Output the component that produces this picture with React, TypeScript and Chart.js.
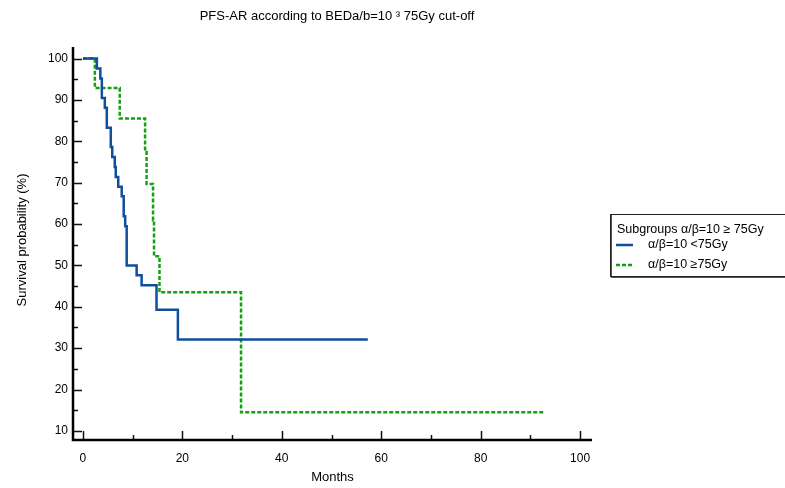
import React, { useEffect, useRef } from "react";
import { Chart, registerables } from "chart.js";

Chart.register(...registerables);

const titleText = "PFS-AR according to BEDa/b=10 ³ 75Gy cut-off";
const legendTitle = "Subgroups α/β=10 ≥ 75Gy";
const seriesLabels = ["α/β=10 <75Gy", "α/β=10 ≥75Gy"];
const xAxisTitle = "Months";
const yAxisTitle = "Survival probability (%)";

// Kaplan-Meier steps (time in months, survival %)
const lowTimes = [0, 2.8, 3.5, 3.8, 4.4, 4.8, 5.6, 5.9, 6.4, 6.6, 7.1, 7.8, 8.2, 8.5, 8.8, 10.8, 11.8, 14.8, 19.1, 57.3];
const lowSurv = [100, 97.6, 95.2, 90.5, 88.1, 83.3, 78.6, 76.2, 73.8, 71.4, 69.0, 66.7, 61.9, 59.5, 50.0, 47.6, 45.2, 39.3, 32.1, 32.1];

const highTimes = [0, 2.4, 7.4, 12.5, 12.8, 14.1, 14.3, 15.4, 31.8, 93.0];
const highSurv = [100, 92.9, 85.5, 77.4, 69.7, 60.9, 52.2, 43.5, 14.5, 14.5];

const xMajorTicks = [0, 20, 40, 60, 80, 100];
const xMinorTicks = [10, 30, 50, 70, 90];
const yMajorTicks = [10, 20, 30, 40, 50, 60, 70, 80, 90, 100];
const yMinorTicks = [15, 25, 35, 45, 55, 65, 75, 85, 95];

const FONT = "'Liberation Sans', Arial, sans-serif";

const decorPlugin = {
  id: "decor",
  afterDatasetsDraw(chart: any) {
    const { ctx, chartArea: ca, scales } = chart;
    const xs = scales.x;
    const ys = scales.y;
    ctx.save();
    ctx.strokeStyle = "#111";
    ctx.lineWidth = 1.5;
    ctx.beginPath();
    for (const v of yMajorTicks) {
      const y = Math.round(ys.getPixelForValue(v)) + 0.5;
      ctx.moveTo(ca.left, y);
      ctx.lineTo(ca.left + 9, y);
    }
    for (const v of yMinorTicks) {
      const y = Math.round(ys.getPixelForValue(v)) + 0.5;
      ctx.moveTo(ca.left, y);
      ctx.lineTo(ca.left + 5, y);
    }
    for (const v of xMajorTicks) {
      const x = Math.round(xs.getPixelForValue(v)) + 0.5;
      ctx.moveTo(x, ca.bottom);
      ctx.lineTo(x, ca.bottom - 9);
    }
    for (const v of xMinorTicks) {
      const x = Math.round(xs.getPixelForValue(v)) + 0.5;
      ctx.moveTo(x, ca.bottom);
      ctx.lineTo(x, ca.bottom - 5);
    }
    ctx.stroke();
    ctx.strokeStyle = "#000";
    ctx.lineWidth = 2.5;
    ctx.beginPath();
    ctx.moveTo(ca.left, ca.top);
    ctx.lineTo(ca.left, ca.bottom);
    ctx.lineTo(ca.right, ca.bottom);
    ctx.stroke();
    ctx.restore();
  },
  afterDraw(chart: any) {
    const { ctx, chartArea: ca } = chart;
    ctx.save();
    ctx.fillStyle = "#000";
    ctx.textBaseline = "middle";
    // title
    ctx.font = `13px ${FONT}`;
    ctx.textAlign = "center";
    ctx.fillText(titleText, 337, 16);
    // x axis title
    ctx.fillText(xAxisTitle, (ca.left + ca.right) / 2, 477);
    // y axis title
    ctx.save();
    ctx.translate(22, 240);
    ctx.rotate(-Math.PI / 2);
    ctx.fillText(yAxisTitle, 0, 0);
    ctx.restore();

    // legend box
    ctx.strokeStyle = "#222";
    ctx.lineWidth = 1;
    ctx.strokeRect(610.5, 214.5, 200, 62);
    ctx.lineWidth = 1;
    ctx.strokeStyle = "#555";
    ctx.beginPath();
    ctx.moveTo(611.5, 215);
    ctx.lineTo(611.5, 276);
    ctx.moveTo(611, 277.5);
    ctx.lineTo(790, 277.5);
    ctx.stroke();

    ctx.font = `12.5px ${FONT}`;
    ctx.textAlign = "left";
    ctx.fillStyle = "#000";
    ctx.fillText(legendTitle, 617, 230);
    const rows = [245, 265];
    chart.data.datasets.forEach((ds: any, i: number) => {
      const y = rows[i];
      ctx.save();
      ctx.strokeStyle = ds.borderColor;
      ctx.lineWidth = ds.borderWidth;
      ctx.setLineDash(ds.borderDash || []);
      ctx.beginPath();
      ctx.moveTo(616, y);
      ctx.lineTo(633, y);
      ctx.stroke();
      ctx.restore();
      ctx.fillText(seriesLabels[i], 648, y);
    });
    ctx.restore();
  },
};

export default function App() {
  const ref = useRef<HTMLCanvasElement | null>(null);
  useEffect(() => {
    document.body.style.margin = "0";
    const canvas = ref.current;
    if (!canvas) return;
    Chart.defaults.font.family = FONT;
    const chart = new Chart(canvas, {
      type: "line",
      data: {
        datasets: [
          {
            label: seriesLabels[0],
            data: lowTimes.map((t, i) => ({ x: t, y: lowSurv[i] })),
            borderColor: "#0f4f9e",
            borderWidth: 2.5,
            stepped: "before",
            pointRadius: 0,
            fill: false,
          },
          {
            label: seriesLabels[1],
            data: highTimes.map((t, i) => ({ x: t, y: highSurv[i] })),
            borderColor: "#13a013",
            borderWidth: 2.5,
            borderDash: [4, 2],
            stepped: "before",
            pointRadius: 0,
            fill: false,
          },
        ],
      },
      options: {
        responsive: false,
        animation: false,
        devicePixelRatio: 1,
        layout: { padding: { top: 47, right: 193, left: 0, bottom: 0 } },
        plugins: {
          legend: { display: false },
          title: { display: false },
          tooltip: { enabled: false },
        },
        scales: {
          x: {
            type: "linear",
            min: -2,
            max: 102.4,
            afterBuildTicks: (s: any) => {
              s.ticks = xMajorTicks.map((v) => ({ value: v }));
            },
            afterFit: (s: any) => {
              s.height = 48;
            },
            grid: { display: false, drawTicks: false },
            border: { display: false },
            ticks: {
              padding: 11,
              color: "#000",
              font: { size: 12, family: FONT },
              maxRotation: 0,
              autoSkip: false,
            },
          },
          y: {
            type: "linear",
            min: 7.8,
            max: 102.8,
            afterBuildTicks: (s: any) => {
              s.ticks = yMajorTicks.map((v) => ({ value: v }));
            },
            afterFit: (s: any) => {
              s.width = 73;
            },
            grid: { display: false, drawTicks: false },
            border: { display: false },
            ticks: {
              padding: 5,
              color: "#000",
              font: { size: 12, family: FONT },
              autoSkip: false,
            },
          },
        },
      },
      plugins: [decorPlugin],
    } as any);
    return () => chart.destroy();
  }, []);
  return (
    <div style={{ width: 785, height: 488 }}>
      <canvas ref={ref} width={785} height={488} style={{ display: "block" }} />
    </div>
  );
}
